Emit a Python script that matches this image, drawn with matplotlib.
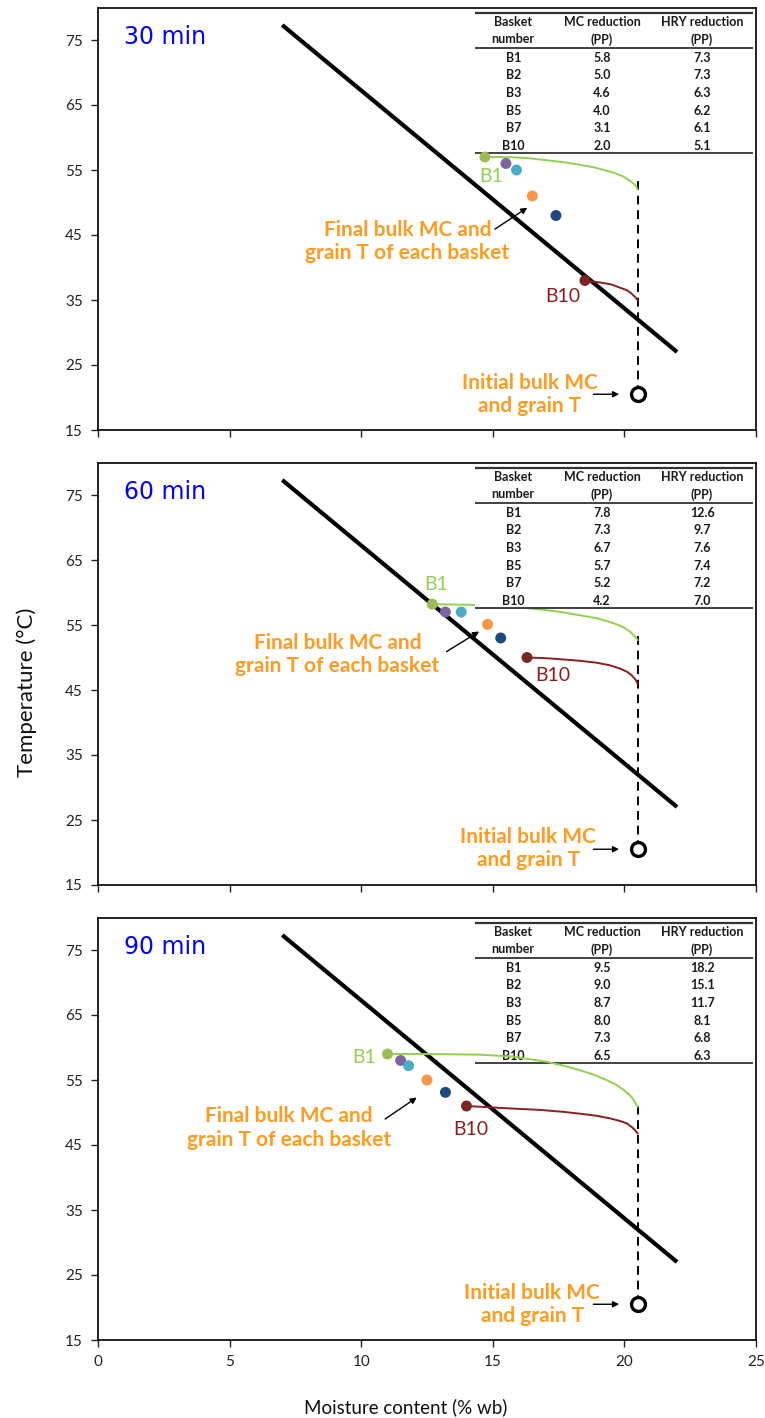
import matplotlib
matplotlib.use("Agg")
import matplotlib.pyplot as plt
from matplotlib.patches import Rectangle

plt.rcParams['font.family'] = ['Lato', 'DejaVu Sans']

# ---- data -------------------------------------------------------------
panel_titles = ['30 min', '60 min', '90 min']
baskets = ['B1', 'B2', 'B3', 'B5', 'B7', 'B10']

initial_mc = 20.5
initial_temp = 20.5

mc_reduction_30 = [5.8, 5.0, 4.6, 4.0, 3.1, 2.0]
hry_reduction_30 = [7.3, 7.3, 6.3, 6.2, 6.1, 5.1]
grain_temp_30 = [57.0, 56.0, 55.0, 51.0, 48.0, 38.0]

mc_reduction_60 = [7.8, 7.3, 6.7, 5.7, 5.2, 4.2]
hry_reduction_60 = [12.6, 9.7, 7.6, 7.4, 7.2, 7.0]
grain_temp_60 = [58.2, 57.0, 57.0, 55.1, 53.0, 50.0]

mc_reduction_90 = [9.5, 9.0, 8.7, 8.0, 7.3, 6.5]
hry_reduction_90 = [18.2, 15.1, 11.7, 8.1, 6.8, 6.3]
grain_temp_90 = [59.0, 58.0, 57.2, 55.0, 53.1, 51.0]

# glass-transition style boundary line
boundary_mc = [7.0, 22.0]
boundary_temp = [77.3, 27.0]

# drying paths of the top (B1) and bottom (B10) baskets
b1_path_mc_30 = [14.7, 15.78, 16.4, 17.04, 17.7, 18.31, 18.85, 19.32, 19.65, 19.96, 20.15, 20.34, 20.45, 20.5]
b1_path_t_30 = [57.0, 56.95, 56.8, 56.5, 56.2, 55.8, 55.4, 54.9, 54.5, 54.0, 53.5, 52.95, 52.5, 52.0]
b10_path_mc_30 = [18.5, 19.07, 19.5, 19.83, 20.1, 20.27, 20.42, 20.5]
b10_path_t_30 = [38.0, 37.7, 37.4, 36.9, 36.5, 36.0, 35.4, 35.0]

b1_path_mc_60 = [12.7, 14.32, 15.5, 16.79, 17.6, 18.31, 19.0, 19.58, 19.95, 20.21, 20.38, 20.5]
b1_path_t_60 = [58.2, 58.1, 57.9, 57.4, 57.0, 56.5, 56.0, 55.3, 54.7, 54.0, 53.3, 52.7]
b10_path_mc_60 = [16.3, 17.0, 17.68, 18.3, 18.94, 19.45, 19.83, 20.1, 20.27, 20.42, 20.5]
b10_path_t_60 = [50.0, 49.9, 49.7, 49.5, 49.2, 48.8, 48.3, 47.8, 47.3, 46.6, 46.0]

b1_path_mc_90 = [11.0, 12.5, 14.51, 15.78, 17.04, 17.7, 18.31, 18.85, 19.32, 19.68, 19.96, 20.2, 20.34, 20.5]
b1_path_t_90 = [59.0, 59.0, 58.9, 58.6, 57.8, 57.2, 56.5, 55.8, 55.0, 54.3, 53.5, 52.7, 52.0, 50.9]
b10_path_mc_90 = [14.0, 15.78, 16.8, 17.68, 18.35, 18.94, 19.45, 19.83, 20.1, 20.27, 20.4, 20.5]
b10_path_t_90 = [51.0, 50.6, 50.4, 50.1, 49.8, 49.5, 49.1, 48.7, 48.3, 47.8, 47.3, 46.8]

# top of the dashed guide above the initial state
guide_top_temp = [53.5, 53.5, 51.0]

x_ticks = [0, 5, 10, 15, 20, 25]
y_ticks = [15, 25, 35, 45, 55, 65, 75]

# ---- styling ------------------------------------------------------------
basket_colors = ['#9BBB59', '#8064A2', '#4BACC6', '#F79646', '#1F497D', '#7B2424']
b1_line_color = '#92D050'
b10_line_color = '#8B1E1E'
note_color = '#FF9B21'

panels = [
    dict(red=mc_reduction_30, hry=hry_reduction_30, temp=grain_temp_30,
         b1=(b1_path_mc_30, b1_path_t_30), b10=(b10_path_mc_30, b10_path_t_30),
         b1_lab=(14.92, 54.0), b10_lab=(17.67, 35.6),
         note=(11.75, 44.0), arrow=((15.08, 45.9), (16.31, 49.2)),
         init_note=(16.4, 20.5), table_z=2.5),
    dict(red=mc_reduction_60, hry=hry_reduction_60, temp=grain_temp_60,
         b1=(b1_path_mc_60, b1_path_t_60), b10=(b10_path_mc_60, b10_path_t_60),
         b1_lab=(12.83, 61.3), b10_lab=(17.29, 47.2),
         note=(9.1, 50.5), arrow=((13.24, 50.9), (14.48, 54.0)),
         init_note=(16.35, 20.6), table_z=3.5),
    dict(red=mc_reduction_90, hry=hry_reduction_90, temp=grain_temp_90,
         b1=(b1_path_mc_90, b1_path_t_90), b10=(b10_path_mc_90, b10_path_t_90),
         b1_lab=(10.11, 58.5), b10_lab=(14.15, 47.4),
         note=(7.25, 47.6), arrow=((10.91, 49.0), (12.11, 52.3)),
         init_note=(16.5, 20.5), table_z=2.5),
]

W, H = 765, 1418
fig = plt.figure(figsize=(W / 100, H / 100), dpi=100)

left = 98 / W
width = 658 / W
panel_tops = [7.5, 462.5, 917.5]
panel_h = 422.5

for i, (cfg, top) in enumerate(zip(panels, panel_tops)):
    ax = fig.add_axes([left, 1 - (top + panel_h) / H, width, panel_h / H])
    ax.set_xlim(0, 25)
    ax.set_ylim(15, 80)
    ax.set_xticks(x_ticks)
    ax.set_yticks(y_ticks)
    ax.tick_params(direction='out', length=5, width=1.0, labelsize=11,
                   colors='#222222', pad=6)
    for s in ax.spines.values():
        s.set_linewidth(1.3)
        s.set_color('#111111')
    if i < 2:
        ax.set_xticklabels([])

    # boundary line
    ax.plot(boundary_mc, boundary_temp, color='black', lw=3.0, zorder=2,
            solid_capstyle='butt')

    # dashed guide and initial state
    ax.plot([initial_mc, initial_mc], [initial_temp, guide_top_temp[i]],
            color='black', lw=1.4, ls=(0, (4.5, 3)), zorder=2)
    ax.plot([initial_mc], [initial_temp], marker='o', ms=10, mfc='white',
            mec='black', mew=2.4, zorder=5)

    # drying paths
    ax.plot(*cfg['b1'], color=b1_line_color, lw=1.4, zorder=3)
    ax.plot(*cfg['b10'], color=b10_line_color, lw=1.4, zorder=3)

    # final states of each basket
    final_mc = [initial_mc - r for r in cfg['red']]
    ax.scatter(final_mc, cfg['temp'], s=62, c=basket_colors, zorder=6,
               linewidths=0)

    ax.text(*cfg['b1_lab'], 'B1', color=b1_line_color, fontsize=14,
            ha='center', va='center', zorder=7)
    ax.text(*cfg['b10_lab'], 'B10', color=b10_line_color, fontsize=14,
            ha='center', va='center', zorder=7)

    ax.text(0.04, 0.93, panel_titles[i], transform=ax.transAxes,
            color='#0000FF', fontsize=17, family='DejaVu Sans',
            ha='left', va='center')

    # annotations
    ax.text(*cfg['note'], 'Final bulk MC and\ngrain T of each basket',
            color=note_color, fontsize=15, fontweight='bold', ha='center',
            va='center', linespacing=1.2, zorder=7)
    ax.annotate('', xy=cfg['arrow'][1], xytext=cfg['arrow'][0],
                arrowprops=dict(arrowstyle='-|>', color='black', lw=1.0,
                                mutation_scale=9, shrinkA=0, shrinkB=0),
                zorder=7)
    ax.text(*cfg['init_note'], 'Initial bulk MC\nand grain T',
            color=note_color, fontsize=15, fontweight='bold', ha='center',
            va='center', linespacing=1.2, zorder=7)
    ax.annotate('', xy=(19.8, initial_temp), xytext=(18.82, initial_temp),
                arrowprops=dict(arrowstyle='-|>', color='black', lw=1.0,
                                mutation_scale=9, shrinkA=0, shrinkB=0),
                zorder=7)

    # summary table
    tx0, tx1 = 0.573, 0.995
    y_top, y_head, y_bot = 0.988, 0.905, 0.656
    tz = cfg['table_z']
    ax.add_patch(Rectangle((tx0, y_bot), tx1 - tx0, y_top - y_bot,
                           transform=ax.transAxes, facecolor='white',
                           edgecolor='none', zorder=tz))
    for yy, lw in ((y_top, 1.6), (y_head, 1.3), (y_bot, 1.3)):
        ax.plot([tx0, tx1], [yy, yy], transform=ax.transAxes,
                color='#333333', lw=lw, zorder=tz + 0.1,
                solid_capstyle='butt')
    col_x = [0.631, 0.766, 0.918]
    headers = [('Basket', 'number'), ('MC reduction', '(PP)'),
               ('HRY reduction', '(PP)')]
    for cx, (h1, h2) in zip(col_x, headers):
        ax.text(cx, 0.966, h1, transform=ax.transAxes, fontsize=9,
                fontweight='bold', ha='center', va='center',
                color='#1a1a1a', zorder=tz + 0.2)
        ax.text(cx, 0.925, h2, transform=ax.transAxes, fontsize=9,
                fontweight='bold', ha='center', va='center',
                color='#1a1a1a', zorder=tz + 0.2)
    for r, (b, mr, hr) in enumerate(zip(baskets, cfg['red'], cfg['hry'])):
        yy = 0.881 - r * 0.0416
        for cx, s in zip(col_x, (b, f'{mr:.1f}', f'{hr:.1f}')):
            ax.text(cx, yy, s, transform=ax.transAxes, fontsize=9,
                    fontweight='bold', ha='center', va='center',
                    color='#1a1a1a', zorder=tz + 0.2)

fig.text(27 / W, 1 - 692 / H, 'Temperature (\u00b0C)', rotation=90,
         fontsize=16, ha='center', va='center', color='#111111')
fig.text(406 / W, 1 - 1407 / H, 'Moisture content (% wb)', fontsize=13.5,
         ha='center', va='center', color='#111111')

fig.savefig('out.png', dpi=100)
